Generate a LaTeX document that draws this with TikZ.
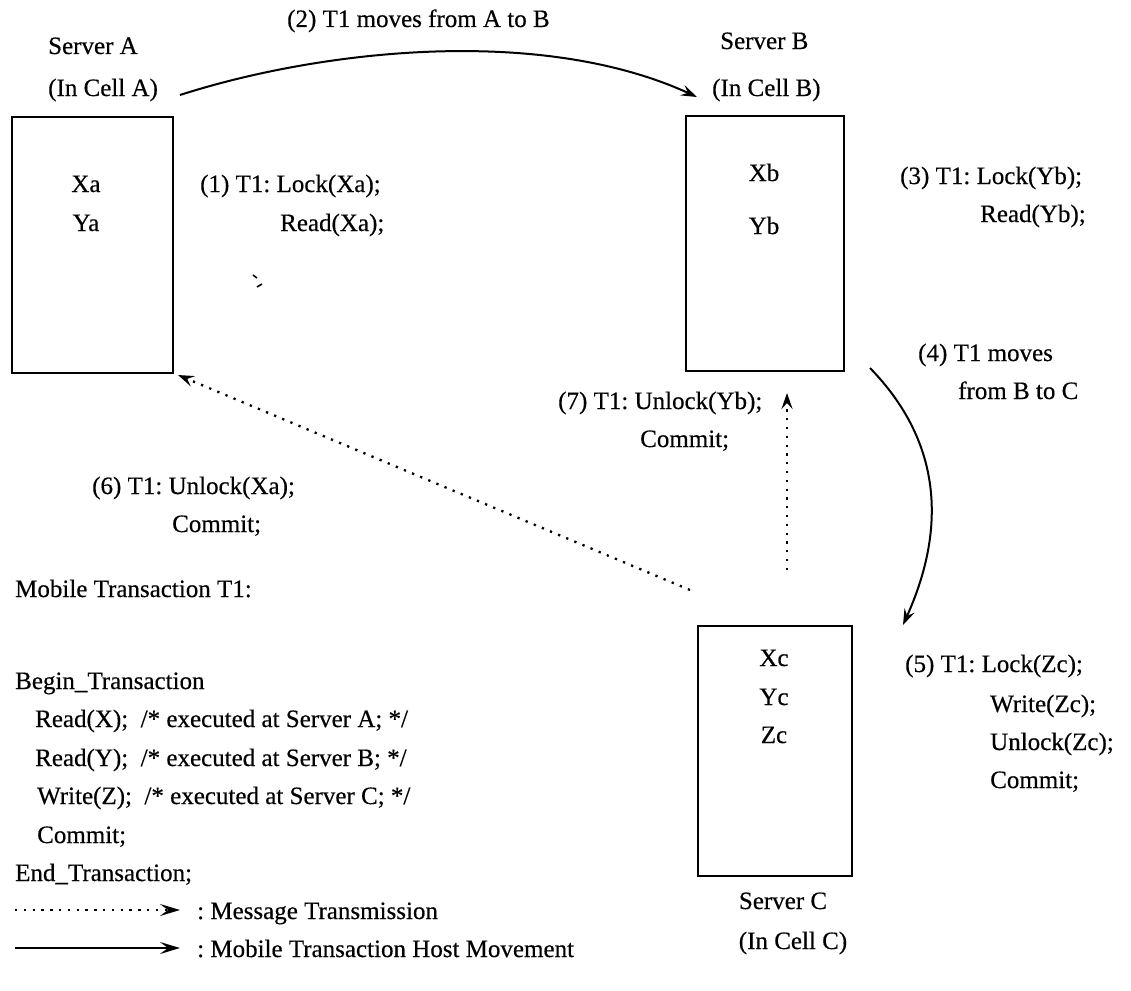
\documentclass[tikz,border=0pt]{standalone}
\usepackage{fontspec}
\setmainfont{Liberation Serif}[FakeBold=0.4]
\usetikzlibrary{arrows.meta}
\frenchspacing
\begin{document}
\begin{tikzpicture}[x=1pt,y=-1pt,
  txt/.style={inner sep=0pt, font=\fontsize{25}{30}\selectfont},
  lt/.style={txt, anchor=base west},
  ct/.style={txt, anchor=base},
  server/.style={draw, line width=2pt, inner sep=0pt, anchor=north west},
  tipstyle/.style={-{Stealth[length=16pt,width=11pt,inset=6pt]}},
  move/.style={line width=2pt, tipstyle},
  msg/.style={line width=2.3pt, dash pattern=on 2.3pt off 6.5pt, tipstyle},
  bigtip/.style={-{Stealth[length=20pt,width=12pt,inset=8pt]}},
]
\useasboundingbox (0,0) rectangle (1131,990);
% servers
\node[server, minimum width=161pt, minimum height=256pt] (A) at (11,116) {};
\node[server, minimum width=158pt, minimum height=255pt] (B) at (685,115) {};
\node[server, minimum width=154pt, minimum height=250pt] (C) at (697,625) {};
% server labels
\node[lt] (sa) at (48,54) {Server A};
\node[lt] (ca) at (48,96) {(In Cell A)};
\node[ct] (xa) at (86,192) {Xa};
\node[ct] (ya) at (86,231) {Ya};
\node[lt] (sb) at (720,49) {Server B};
\node[lt] (cb) at (712,96) {(In Cell B)};
\node[ct] (xb) at (764,181) {Xb};
\node[ct] (yb) at (764,234) {Yb};
\node[ct] (xc) at (774,666) {Xc};
\node[ct] (yc) at (774,705) {Yc};
\node[ct] (zc) at (774,743) {Zc};
\node[ct] (sc) at (783,909) {Server C};
\node[ct] (cc) at (793,949) {(In Cell C)};
% step labels
\node[lt] (l2) at (287,27) {(2) T1 moves from A to B};
\node[lt] (l1a) at (200,192) {(1) T1: Lock(Xa);};
\node[lt] (l1b) at (280,231) {Read(Xa);};
\node[lt] (l3a) at (900,184) {(3) T1: Lock(Yb);};
\node[lt] (l3b) at (980,222) {Read(Yb);};
\node[lt] (l4a) at (918,361) {(4) T1 moves};
\node[lt] (l4b) at (958,399) {from B to C};
\node[lt] (l7a) at (558,409) {(7) T1: Unlock(Yb);};
\node[lt] (l7b) at (640,447) {Commit;};
\node[lt] (l6a) at (92,494) {(6) T1: Unlock(Xa);};
\node[lt] (l6b) at (172,532) {Commit;};
\node[lt] (l5a) at (905,672) {(5) T1: Lock(Zc);};
\node[lt] (l5b) at (990,712) {Write(Zc);};
\node[lt] (l5c) at (990,750) {Unlock(Zc);};
\node[lt] (l5d) at (990,788) {Commit;};
% transaction text
\node[lt] (m0) at (15,597) {Mobile Transaction T1:};
\node[lt] (m1) at (15,689) {Begin\_Transaction};
\node[lt] (m2) at (35,727) {Read(X);\ \ /* executed at Server A; */};
\node[lt] (m3) at (35,766) {Read(Y);\ \ /* executed at Server B; */};
\node[lt] (m4) at (37,804) {Write(Z);\ \ /* executed at Server C; */};
\node[lt] (m5) at (37,843) {Commit;};
\node[lt] (m6) at (15,881) {End\_Transaction;};
\node[lt] (lg1) at (197,919) {: Message Transmission};
\node[lt] (lg2) at (197,957) {: Mobile Transaction Host Movement};
% connector end points
\coordinate (ab0) at (180,95);
\coordinate (ab1) at (697,97);
\coordinate (bc0) at (870,368);
\coordinate (bc1) at (903,625);
\coordinate (cb0) at (787,570);
\coordinate (cb1) at (787,393);
\coordinate (ca0) at (690,590);
\coordinate (ca1) at (178,375);
\coordinate (lg1s) at (15,910);
\coordinate (lg1e) at (180,910);
\coordinate (lg2s) at (15,948);
\coordinate (lg2e) at (180,948);
% movements
\draw[move] (ab0) .. controls (320,50) and (540,25) .. (ab1);
\draw[move] (bc0) .. controls (940,440) and (948,525) .. (bc1);
% messages
\draw[msg] (cb0) -- (cb1);
\draw[msg] (ca0) -- (ca1);
% legend
\draw[msg, bigtip] (lg1s) -- (lg1e);
\draw[line width=2pt, bigtip] (lg2s) -- (lg2e);
% stray scan marks
\draw[line width=1.6pt] (253,275) -- (257,278);
\draw[line width=1.6pt] (257,287) -- (262,284);
\end{tikzpicture}
\end{document}
